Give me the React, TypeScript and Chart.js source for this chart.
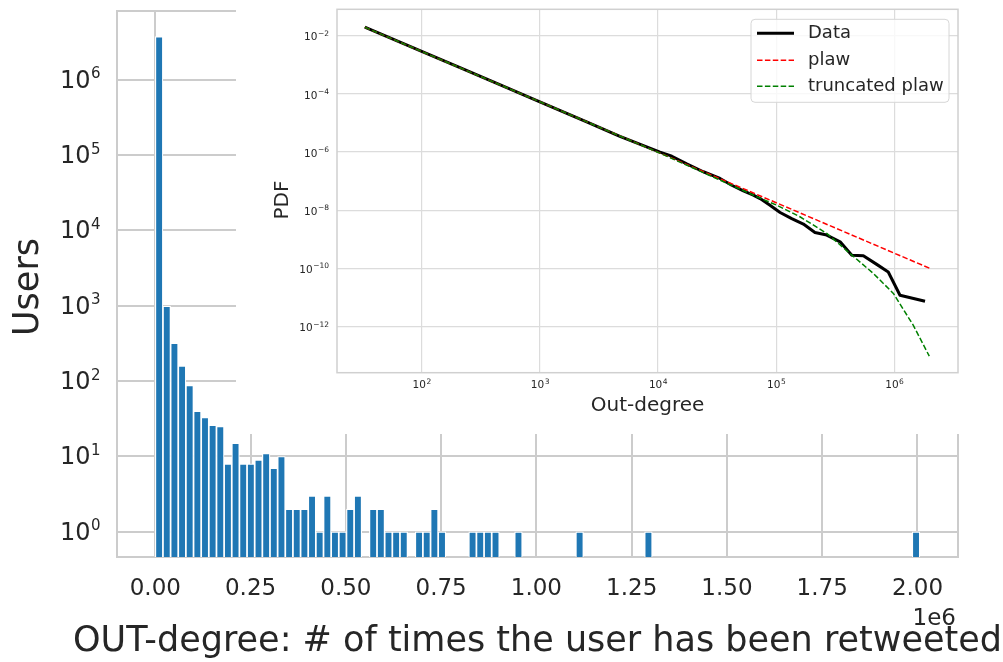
import React, { useEffect, useRef } from "react";
import { Chart, registerables } from "chart.js";

Chart.register(...registerables);

const FONT = "'DejaVu Sans', sans-serif";
const INK = "#262626";

// Histogram of out-degree: 100 equal-width bins starting at 0
const BIN_WIDTH = 20062;
const binCounts = [
  3750000, 990, 320, 160, 88, 40, 33, 26, 25, 8,
  15, 8, 8, 9, 11, 7, 10, 2, 2, 2,
  3, 1, 3, 1, 1, 2, 3, 0, 2, 2,
  1, 1, 1, 0, 1, 1, 2, 1, 0, 0,
  0, 1, 1, 1, 1, 0, 0, 1, 0, 0,
  0, 0, 0, 0, 0, 1, 0, 0, 0, 0,
  0, 0, 0, 0, 1, 0, 0, 0, 0, 0,
  0, 0, 0, 0, 0, 0, 0, 0, 0, 0,
  0, 0, 0, 0, 0, 0, 0, 0, 0, 0,
  0, 0, 0, 0, 0, 0, 0, 0, 0, 1,
];

const xTickValues = [0, 250000, 500000, 750000, 1000000, 1250000, 1500000, 1750000, 2000000];
const xTickLabels = ["0.00", "0.25", "0.50", "0.75", "1.00", "1.25", "1.50", "1.75", "2.00"];
const yTickValues = [1, 10, 100, 1000, 10000, 100000, 1000000];
const yTickExponents = ["0", "1", "2", "3", "4", "5", "6"];

const mainXTitle = "OUT-degree: # of times the user has been retweeted";
const mainYTitle = "Users";
const mainXOffsetText = "1e6";

// Inset: log-log PDF of out-degree with fitted distributions
const dataX = [33, 100, 211, 490, 1000, 2490, 4760, 10400, 13100, 17500, 24200, 33500, 42100, 52800, 64100, 73100, 88700, 108000, 135500, 170000, 213000, 268000, 348000, 437000, 547000, 710000, 889000, 1117000, 1820000];
const dataY = [2.0e-2, 2.95e-3, 8.1e-4, 1.86e-4, 5.4e-5, 1.1e-5, 3.5e-6, 1.0e-6, 7.2e-7, 3.9e-7, 2.1e-7, 1.23e-7, 7.2e-8, 4.6e-8, 3.3e-8, 2.5e-8, 1.48e-8, 8.3e-9, 5.1e-9, 3.3e-9, 1.7e-9, 1.38e-9, 8.1e-10, 2.8e-10, 2.7e-10, 1.35e-10, 7.4e-11, 1.17e-11, 7.2e-12];

const plawX = [33, 1000, 100000, 1980000];
const plawY = [2.0e-2, 5.4e-5, 1.8e-8, 1.0e-10];

const truncX = [33, 1000, 10000, 24000, 68500, 101000, 159000, 268000, 422000, 664000, 982000, 1449000, 1977000];
const truncY = [2.0e-2, 5.4e-5, 9.8e-7, 2.0e-7, 2.9e-8, 1.48e-8, 5.9e-9, 1.58e-9, 3.2e-10, 6.6e-11, 1.35e-11, 1.07e-12, 9.3e-14];

const seriesNames = ["Data", "plaw", "truncated plaw"];
const seriesColors = ["#000000", "#ff0000", "#008000"];

const insetXTicks = [1e2, 1e3, 1e4, 1e5, 1e6];
const insetXExponents = ["2", "3", "4", "5", "6"];
const insetYTicks = [1e-2, 1e-4, 1e-6, 1e-8, 1e-10, 1e-12];
const insetYExponents = ["−2", "−4", "−6", "−8", "−10", "−12"];
const insetXTitle = "Out-degree";
const insetYTitle = "PDF";

const zip = (xs: number[], ys: number[]) => xs.map((x, i) => ({ x, y: ys[i] }));

// "10" followed by a raised, smaller exponent
function drawPower(
  ctx: CanvasRenderingContext2D,
  exp: string,
  x: number,
  baseline: number,
  align: "right" | "center",
  baseSize: number,
  expSize: number,
  raise: number
) {
  ctx.font = `${baseSize}px ${FONT}`;
  const wb = ctx.measureText("10").width;
  ctx.font = `${expSize}px ${FONT}`;
  const we = ctx.measureText(exp).width;
  const total = wb + we;
  const x0 = align === "right" ? x - total : x - total / 2;
  ctx.textAlign = "left";
  ctx.textBaseline = "alphabetic";
  ctx.font = `${baseSize}px ${FONT}`;
  ctx.fillText("10", x0, baseline);
  ctx.font = `${expSize}px ${FONT}`;
  ctx.fillText(exp, x0 + wb + 0.5, baseline - raise);
}

const framePlugin = (color: string, width: number) => ({
  id: "frame",
  beforeDatasetsDraw(chart: any) {
    const { ctx, chartArea: a } = chart;
    ctx.save();
    ctx.strokeStyle = color;
    ctx.lineWidth = width;
    ctx.strokeRect(a.left, a.top, a.right - a.left, a.bottom - a.top);
    ctx.restore();
  },
});

const mainTextPlugin = {
  id: "mainText",
  afterDraw(chart: any) {
    const { ctx, chartArea: a } = chart;
    const y = chart.scales.y;
    ctx.save();
    ctx.fillStyle = INK;
    yTickValues.forEach((v, i) => {
      drawPower(ctx, yTickExponents[i], a.left - 17, y.getPixelForValue(v) + 8, "right", 24, 15, 9.5);
    });
    ctx.font = `35px ${FONT}`;
    ctx.textAlign = "center";
    ctx.textBaseline = "alphabetic";
    ctx.fillText(mainXTitle, (a.left + a.right) / 2, a.bottom + 94);
    ctx.font = `23px ${FONT}`;
    ctx.textAlign = "right";
    ctx.fillText(mainXOffsetText, a.right - 2, a.bottom + 68);
    ctx.translate(a.left - 88, (a.top + a.bottom) / 2 + 3);
    ctx.rotate(-Math.PI / 2);
    ctx.font = `35px ${FONT}`;
    ctx.textAlign = "center";
    ctx.textBaseline = "middle";
    ctx.fillText(mainYTitle, 0, 0);
    ctx.restore();
  },
};

const insetTextPlugin = {
  id: "insetText",
  afterDraw(chart: any) {
    const { ctx, chartArea: a } = chart;
    const sx = chart.scales.x;
    const sy = chart.scales.y;
    ctx.save();
    ctx.fillStyle = INK;
    insetYTicks.forEach((v, i) => {
      drawPower(ctx, insetYExponents[i], a.left - 8.5, sy.getPixelForValue(v) + 4.5, "right", 10.5, 7.5, 4.2);
    });
    insetXTicks.forEach((v, i) => {
      drawPower(ctx, insetXExponents[i], sx.getPixelForValue(v), a.bottom + 15.6, "center", 10.5, 7.5, 4.2);
    });

    ctx.font = `20px ${FONT}`;
    ctx.textAlign = "center";
    ctx.textBaseline = "alphabetic";
    ctx.fillText(insetXTitle, (a.left + a.right) / 2, a.bottom + 38);
    ctx.save();
    ctx.translate(a.left - 54, (a.top + a.bottom) / 2 + 9);
    ctx.rotate(-Math.PI / 2);
    ctx.textBaseline = "middle";
    ctx.fillText(insetYTitle, 0, 0);
    ctx.restore();

    // legend box in the upper right corner
    const w = 198;
    const h = 83;
    const x0 = a.right - 9 - w;
    const y0 = a.top + 10;
    const r = 4;
    ctx.beginPath();
    ctx.moveTo(x0 + r, y0);
    ctx.arcTo(x0 + w, y0, x0 + w, y0 + h, r);
    ctx.arcTo(x0 + w, y0 + h, x0, y0 + h, r);
    ctx.arcTo(x0, y0 + h, x0, y0, r);
    ctx.arcTo(x0, y0, x0 + w, y0, r);
    ctx.closePath();
    ctx.fillStyle = "rgba(255,255,255,0.8)";
    ctx.fill();
    ctx.strokeStyle = "#d6d6d6";
    ctx.lineWidth = 1;
    ctx.stroke();

    const rows = [y0 + 14, y0 + 41, y0 + 67];
    seriesNames.forEach((name, i) => {
      const yy = rows[i];
      ctx.beginPath();
      ctx.strokeStyle = seriesColors[i];
      ctx.lineWidth = i === 0 ? 3 : 1.5;
      ctx.setLineDash(i === 0 ? [] : [5.5, 2.4]);
      ctx.moveTo(x0 + 6, yy);
      ctx.lineTo(x0 + 43, yy);
      ctx.stroke();
      ctx.setLineDash([]);
      ctx.fillStyle = INK;
      ctx.font = `18px ${FONT}`;
      ctx.textAlign = "left";
      ctx.textBaseline = "middle";
      ctx.fillText(name, x0 + 57, yy);
    });
    ctx.restore();
  },
};

const fixedBox = (w: number | null, h: number | null) => (s: any) => {
  if (w !== null) s.width = w;
  if (h !== null) s.height = h;
  s.paddingTop = 0;
  s.paddingBottom = 0;
  s.paddingLeft = 0;
  s.paddingRight = 0;
};

export default function App() {
  const mainRef = useRef<HTMLCanvasElement>(null);
  const insetRef = useRef<HTMLCanvasElement>(null);

  useEffect(() => {
    const main = new Chart(mainRef.current as HTMLCanvasElement, {
      type: "bar",
      data: {
        datasets: [
          {
            data: binCounts.map((c, i) => ({ x: (i + 0.5) * BIN_WIDTH, y: c > 0 ? c : null })),
            backgroundColor: "#1f77b4",
            borderColor: "#ffffff",
            borderWidth: 1.2,
            borderSkipped: "start",
            barPercentage: 1,
            categoryPercentage: 1,
          } as any,
        ],
      },
      options: {
        animation: false,
        responsive: false,
        maintainAspectRatio: false,
        layout: { padding: { top: 11, right: 45, left: 0, bottom: 0 } },
        plugins: { legend: { display: false }, tooltip: { enabled: false } },
        scales: {
          x: {
            type: "linear",
            min: -100500,
            max: 2106300,
            offset: false,
            afterBuildTicks: (s: any) => {
              s.ticks = xTickValues.map((v) => ({ value: v }));
            },
            afterFit: fixedBox(null, 105),
            ticks: {
              callback: (_v: any, i: number) => xTickLabels[i],
              font: { family: FONT, size: 23 },
              color: INK,
              padding: 18,
              maxRotation: 0,
              autoSkip: false,
            },
            grid: { color: "#cccccc", lineWidth: 2, drawTicks: false, offset: false },
            border: { display: false },
          },
          y: {
            type: "logarithmic",
            min: 0.463,
            max: 8.2e6,
            afterBuildTicks: (s: any) => {
              s.ticks = yTickValues.map((v) => ({ value: v }));
            },
            afterFit: fixedBox(117, null),
            ticks: { display: false },
            grid: { color: "#cccccc", lineWidth: 2, drawTicks: false },
            border: { display: false },
          },
        },
      } as any,
      plugins: [framePlugin("#cccccc", 2), mainTextPlugin],
    });

    const lineStyle = { pointRadius: 0, tension: 0, fill: false };
    const inset = new Chart(insetRef.current as HTMLCanvasElement, {
      type: "line",
      data: {
        datasets: [
          { ...lineStyle, label: seriesNames[0], data: zip(dataX, dataY), borderColor: seriesColors[0], borderWidth: 3, borderJoinStyle: "round", order: 3 },
          { ...lineStyle, label: seriesNames[1], data: zip(plawX, plawY), borderColor: seriesColors[1], borderWidth: 1.5, borderDash: [5.5, 2.4], order: 2 },
          { ...lineStyle, label: seriesNames[2], data: zip(truncX, truncY), borderColor: seriesColors[2], borderWidth: 1.5, borderDash: [5.5, 2.4], order: 1 },
        ] as any,
      },
      options: {
        animation: false,
        responsive: false,
        maintainAspectRatio: false,
        layout: { padding: { top: 9.3, right: 45, left: 0, bottom: 0 } },
        plugins: { legend: { display: false }, tooltip: { enabled: false } },
        scales: {
          x: {
            type: "logarithmic",
            min: 19.2,
            max: 3.46e6,
            afterBuildTicks: (s: any) => {
              s.ticks = insetXTicks.map((v) => ({ value: v }));
            },
            afterFit: fixedBox(null, 61.3),
            ticks: { display: false },
            grid: { color: "#dcdcdc", lineWidth: 1.2, drawTicks: false },
            border: { display: false },
          },
          y: {
            type: "logarithmic",
            min: 2.5e-14,
            max: 0.083,
            afterBuildTicks: (s: any) => {
              s.ticks = insetYTicks.map((v) => ({ value: v }));
            },
            afterFit: fixedBox(101, null),
            ticks: { display: false },
            grid: { color: "#dcdcdc", lineWidth: 1.2, drawTicks: false },
            border: { display: false },
          },
        },
      } as any,
      plugins: [framePlugin("#d0d0d0", 1.5), insetTextPlugin],
    });

    return () => {
      main.destroy();
      inset.destroy();
    };
  }, []);

  return (
    <div style={{ position: "absolute", left: 0, top: 0, width: 1003, height: 662, background: "#ffffff" }}>
      <canvas ref={mainRef} width={1003} height={662} style={{ position: "absolute", left: 0, top: 0 }} />
      <canvas
        ref={insetRef}
        width={767}
        height={434}
        style={{ position: "absolute", left: 236, top: 0, background: "#ffffff" }}
      />
    </div>
  );
}
